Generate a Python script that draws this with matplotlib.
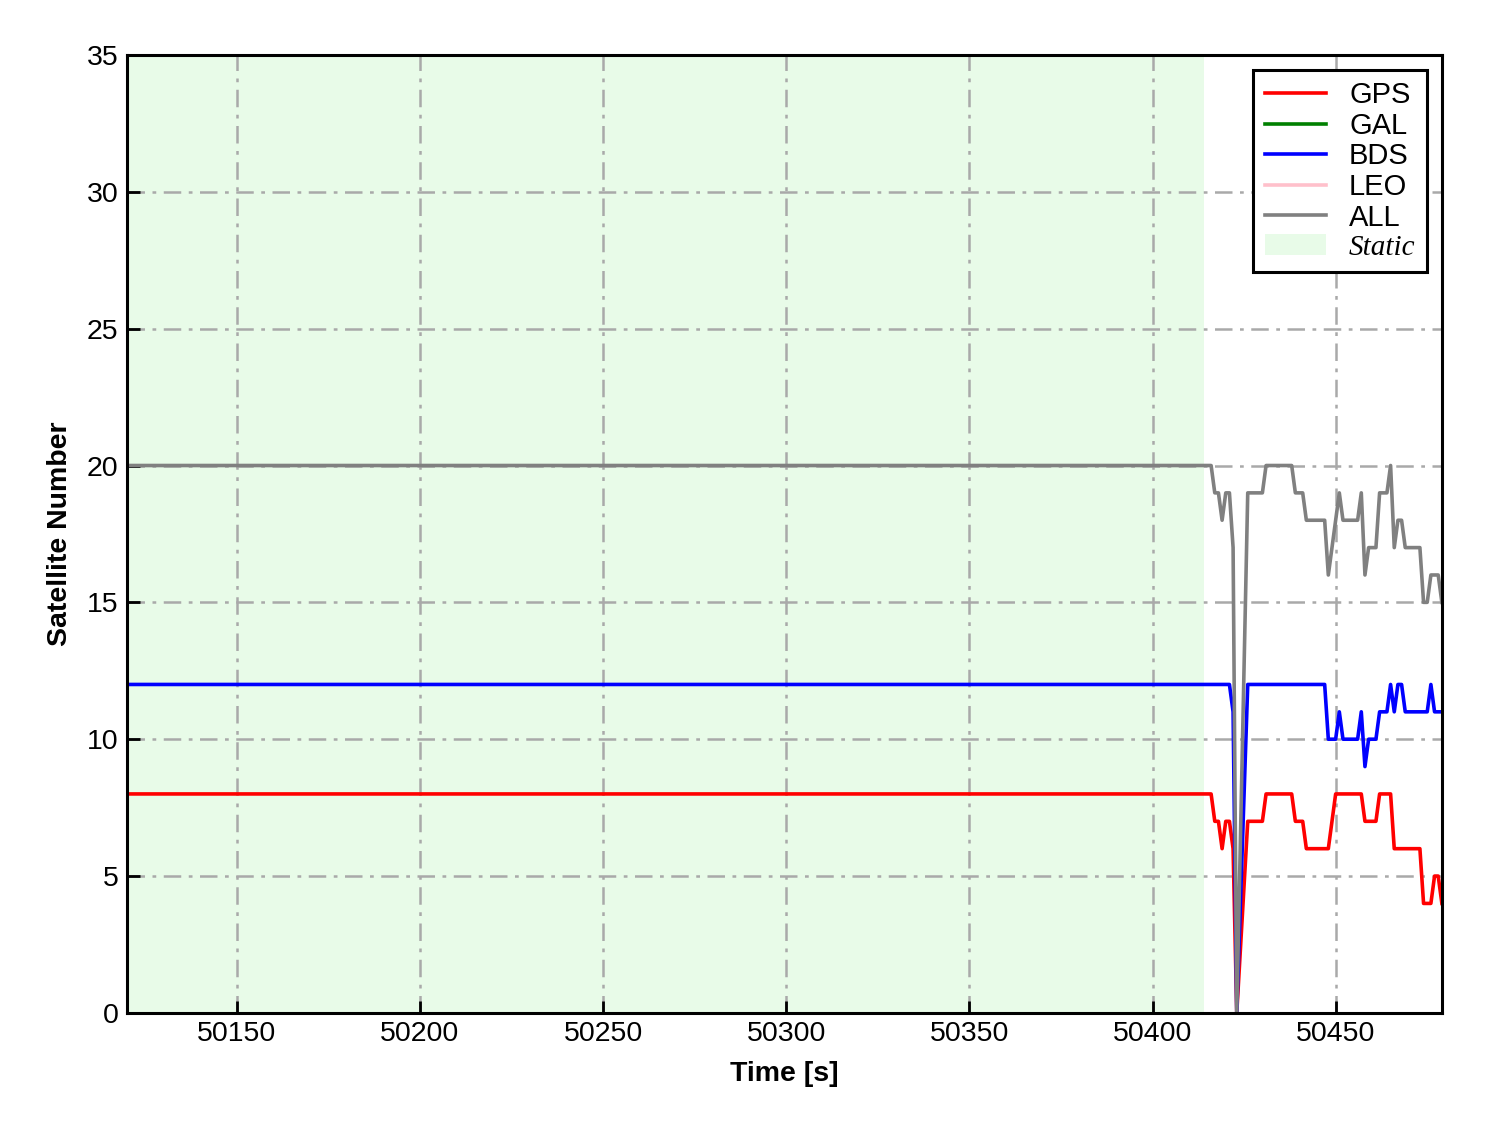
from matplotlib import pyplot as plt
from matplotlib.patches import Patch
import numpy as np

plt.rcParams['font.family'] = ['Liberation Sans', 'DejaVu Sans']

# steady part at start of the arc (1 Hz epochs)
t_start = 50120
flat_until = 50416
gps_flat = 8
bds_flat = 12
all_flat = 20

# epochs after the static part (50424 and 50425 missing)
tail_time = [50417, 50418, 50419, 50420, 50421, 50422, 50423] + list(range(50426, 50480))
gps_tail = [7, 7, 6, 7, 7, 6, 0,
            7, 7, 7, 7, 7, 8, 8, 8, 8, 8, 8, 8, 8, 7, 7, 7, 6, 6, 6, 6, 6, 6, 6, 7,
            8, 8, 8, 8, 8, 8, 8, 8, 7, 7, 7, 7, 8, 8, 8, 8, 6, 6, 6, 6, 6, 6, 6, 6,
            4, 4, 4, 5, 5, 4]
bds_tail = [12, 12, 12, 12, 12, 11, 0,
            12, 12, 12, 12, 12, 12, 12, 12, 12, 12, 12, 12, 12, 12, 12, 12, 12, 12, 12, 12, 12, 12,
            10, 10, 10, 11, 10, 10, 10, 10, 10, 11, 9, 10, 10, 10, 11, 11, 11, 12, 11, 12, 12,
            11, 11, 11, 11, 11, 11, 11, 12, 11, 11, 11]
all_tail = [19, 19, 18, 19, 19, 17, 0,
            19, 19, 19, 19, 19, 20, 20, 20, 20, 20, 20, 20, 20, 19, 19, 19, 18, 18, 18, 18, 18, 18,
            16, 17, 18, 19, 18, 18, 18, 18, 18, 19, 16, 17, 17, 17, 19, 19, 19, 20, 17, 18, 18,
            17, 17, 17, 17, 17, 15, 15, 16, 16, 16, 15]
gal = []
leo = []

static_end = 50414

time = np.concatenate([np.arange(t_start, flat_until + 1), tail_time])
n_flat = flat_until - t_start + 1
gps = np.concatenate([np.full(n_flat, gps_flat), gps_tail])
bds = np.concatenate([np.full(n_flat, bds_flat), bds_tail])
allsat = np.concatenate([np.full(n_flat, all_flat), all_tail])

fig = plt.figure(figsize=(14.88, 11.33))
ax = fig.add_axes([0.0853, 0.106, 0.8837, 0.8455])

ax.axvspan(t_start, static_end, color='lightgreen', alpha=0.2, lw=0)
lw = 2.6
ax.plot(time, gps, color='red', lw=lw, label='GPS')
ax.plot(gal, gal, color='green', lw=lw, label='GAL')
ax.plot(time, bds, color='blue', lw=lw, label='BDS')
ax.plot(leo, leo, color='pink', lw=lw, label='LEO')
ax.plot(time, allsat, color='gray', lw=lw, label='ALL')

ax.set_xlim(t_start, time[-1])
ax.set_ylim(0, 35)
ax.set_yticks(np.arange(0, 36, 5))
ax.set_xticks(np.arange(50150, 50451, 50))
ax.grid(True, color='darkgray', linestyle=(0, (7, 3, 1.5, 3)), lw=1.8)

ax.tick_params(direction='in', length=9, width=2, labelsize=20.5, pad=6)
for s in ax.spines.values():
    s.set_linewidth(2.2)

ax.set_xlabel('Time [s]', fontsize=20.5, fontweight='bold', labelpad=10)
ax.set_ylabel('Satellite Number', fontsize=20.5, fontweight='bold', labelpad=10)

handles, labels = ax.get_legend_handles_labels()
handles.append(Patch(facecolor='lightgreen', alpha=0.2, edgecolor='none'))
labels.append('Static')
leg = ax.legend(handles, labels, loc='upper right', fontsize=21, fancybox=False,
                framealpha=1, edgecolor='black', handlelength=2.1, labelspacing=0.09,
                borderaxespad=0.5)
leg.get_frame().set_linewidth(2.2)
leg.get_texts()[-1].set_fontfamily('Liberation Serif')
leg.get_texts()[-1].set_fontstyle('italic')

fig.savefig('out.png', dpi=100)
plt.close()
